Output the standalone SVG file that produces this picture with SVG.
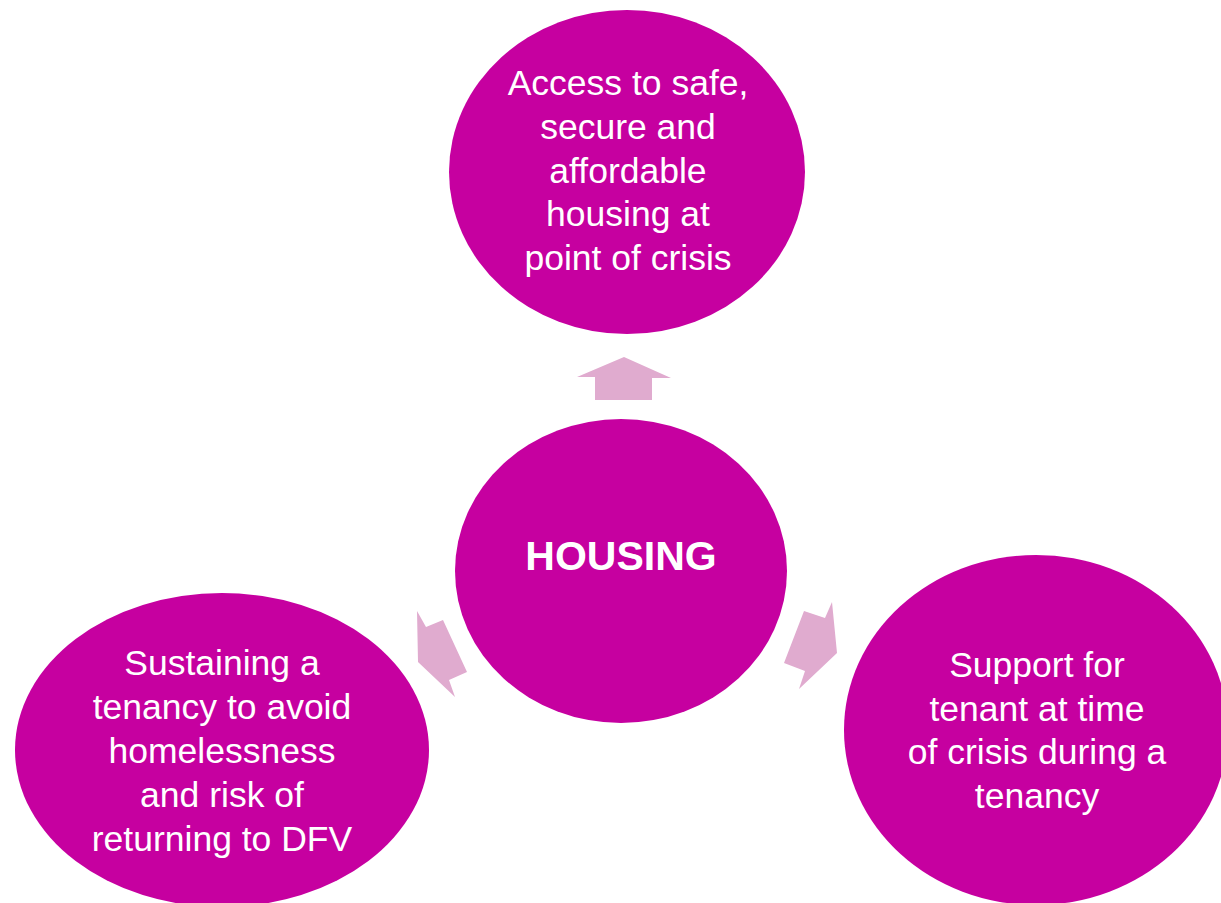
<svg xmlns="http://www.w3.org/2000/svg" width="1221" height="903" viewBox="0 0 1221 903">
<style>
.c{fill:#C600A0}
.a{fill:#E0ABCF}
.t{font-family:"Liberation Sans",Arial,sans-serif;font-size:35.5px;fill:#fff;text-anchor:middle}
.b{font-weight:bold;font-size:41px}
</style>
<rect width="1221" height="903" fill="#fff"/>
<g id="connectors">
<polygon class="a" points="624,357 577,377 595,377 595,400 652,400 652,378 671,378"/>
<polygon class="a" points="417,611 426,627 443,620 467,672 449,680 455,697 418,662"/>
<polygon class="a" points="832,602 825,618 804,611 784,663 805,671 799,689 837,653"/>
</g>
<g id="top">
<ellipse class="c" cx="627" cy="172" rx="178" ry="162"/>
<text class="t" x="628" y="95">Access to safe,</text>
<text class="t" x="628" y="139">secure and</text>
<text class="t" x="628" y="183">affordable</text>
<text class="t" x="628" y="226">housing at</text>
<text class="t" x="628" y="270">point of crisis</text>
</g>
<g id="center">
<ellipse class="c" cx="621" cy="571" rx="166" ry="152"/>
<text class="t b" x="621" y="570">HOUSING</text>
</g>
<g id="left">
<ellipse class="c" cx="222" cy="750" rx="207" ry="157"/>
<text class="t" x="222" y="675">Sustaining a</text>
<text class="t" x="222" y="719">tenancy to avoid</text>
<text class="t" x="222" y="763">homelessness</text>
<text class="t" x="222" y="807">and risk of</text>
<text class="t" x="222" y="851">returning to DFV</text>
</g>
<g id="right">
<ellipse class="c" cx="1036" cy="730" rx="192" ry="175"/>
<text class="t" x="1037" y="677">Support for</text>
<text class="t" x="1037" y="721">tenant at time</text>
<text class="t" x="1037" y="764">of crisis during a</text>
<text class="t" x="1037" y="808">tenancy</text>
</g>
</svg>
